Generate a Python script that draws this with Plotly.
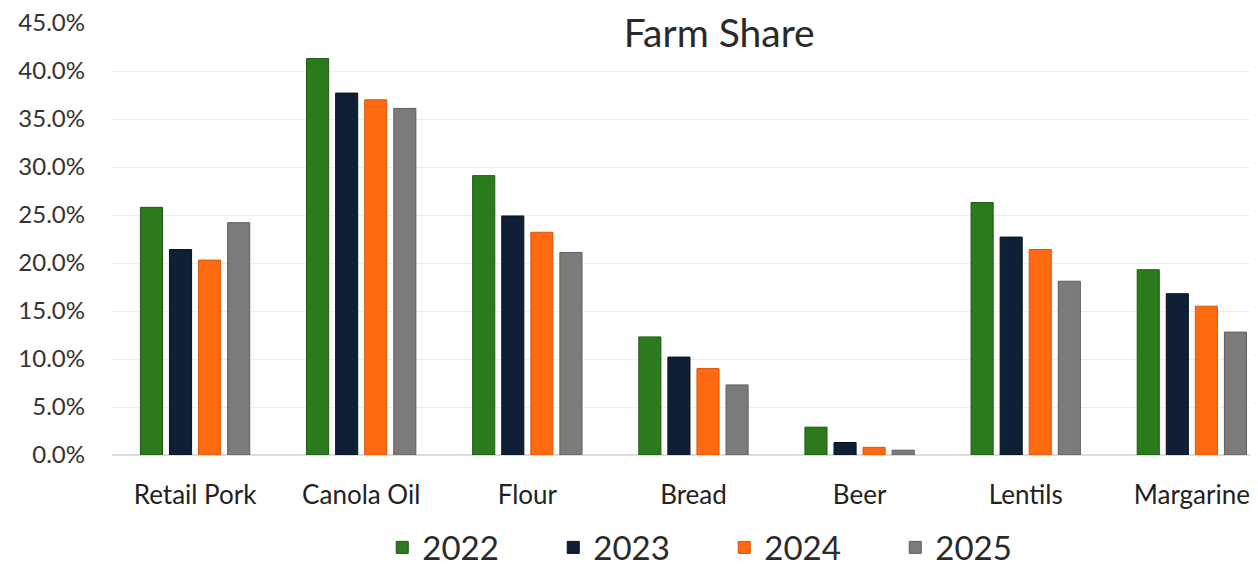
import plotly.graph_objects as go

categories = ["Retail Pork", "Canola Oil", "Flour", "Bread", "Beer", "Lentils", "Margarine"]
years = ["2022", "2023", "2024", "2025"]
v2022 = [25.8, 41.3, 29.1, 12.3, 2.9, 26.3, 19.3]
v2023 = [21.4, 37.7, 24.9, 10.2, 1.3, 22.7, 16.8]
v2024 = [20.3, 37.0, 23.2, 9.0, 0.8, 21.4, 15.5]
v2025 = [24.2, 36.1, 21.1, 7.3, 0.5, 18.1, 12.8]
tick_vals = [0, 5, 10, 15, 20, 25, 30, 35, 40, 45]

series = [v2022, v2023, v2024, v2025]
colors = ["#2b7a1c", "#0f2036", "#ff6a10", "#7b7b7b"]
edges = ["#1d5a12", "#07121f", "#d9560a", "#5e5e5e"]

fig = go.Figure()
for name, vals, c, e in zip(years, series, colors, edges):
    fig.add_trace(go.Bar(x=categories, y=vals, name=name,
                         marker=dict(color=c, line=dict(color=e, width=1))))

fig.update_layout(
    width=1250, height=559,
    paper_bgcolor="white", plot_bgcolor="white",
    font=dict(family="Lato, sans-serif", color="#333333"),
    title=dict(text="Farm Share", x=0.569, xanchor="center", y=0.955, yanchor="middle",
               font=dict(size=39, color="#2a2a2a")),
    margin=dict(l=104, r=8, t=15, b=112, autoexpand=False),
    barmode="group", bargap=0.3, bargroupgap=0.24,
    showlegend=True,
    legend=dict(orientation="h", x=0.538, xanchor="center", yref="container",
                y=0.035, yanchor="middle",
                font=dict(size=33, color="#2a2a2a"), entrywidth=126, itemwidth=30),
)
fig.update_yaxes(range=[0, 45], tickvals=tick_vals,
                 ticktext=[f"{v:.1f}%" for v in tick_vals],
                 showgrid=True, gridcolor="#ededed", gridwidth=1,
                 zeroline=True, zerolinecolor="#dddddd", ticklabeloverflow="allow",
                 ticklabelstandoff=26, tickfont=dict(size=24, color="#333333"))
fig.update_xaxes(range=[-0.5, 6.35], showgrid=False, showline=False,
                 ticklabeloverflow="allow",
                 ticklabelstandoff=22, tickfont=dict(size=26, color="#222222"))

fig.write_html("out.html")
